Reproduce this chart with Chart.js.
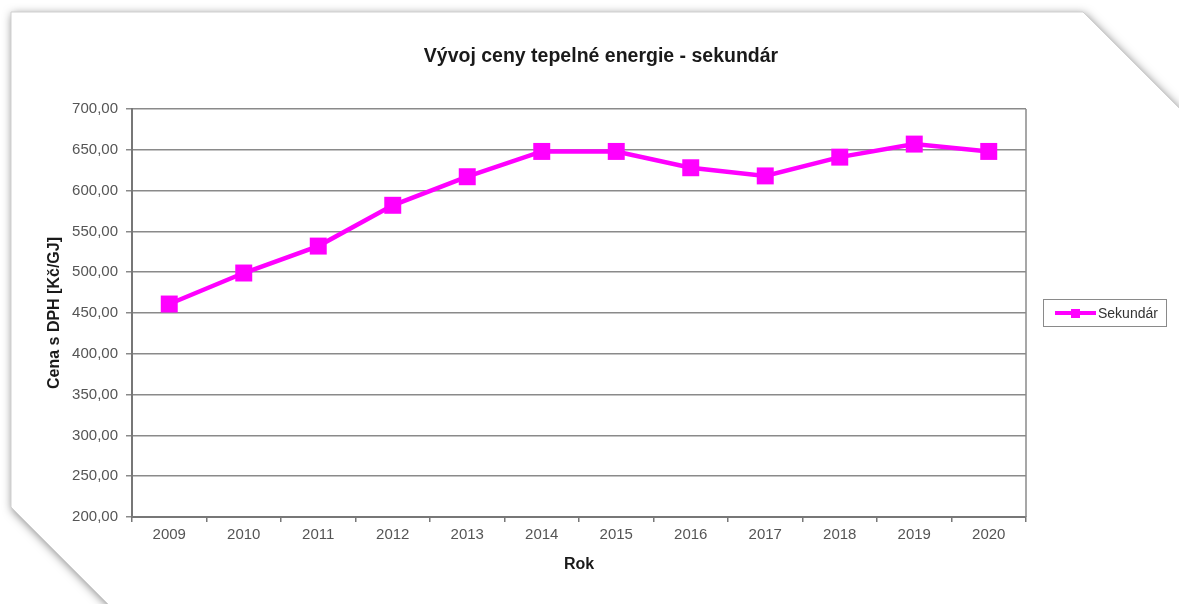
<!DOCTYPE html>
<html>
<head>
<meta charset="utf-8">
<script src="https://cdn.jsdelivr.net/npm/chart.js@4.4.1/dist/chart.umd.min.js"></script>
<style>
  html, body { margin: 0; padding: 0; background: #fff; }
  #wrap { width: 1179px; height: 604px; }
</style>
</head>
<body>
<div id="wrap"><canvas id="chart" width="1179" height="604"></canvas></div>
<script>
const years = ["2009", "2010", "2011", "2012", "2013", "2014", "2015", "2016", "2017", "2018", "2019", "2020"];
const sekundar = [461, 499, 532, 582, 617, 648, 648, 628, 618, 641, 657, 648];
const yMin = 200;
const yMax = 700;
const yStep = 50;
const chartTitle = 'Vývoj ceny tepelné energie - sekundár';

const magenta = '#ff00ff';
const font = '"Liberation Sans", Arial, sans-serif';

// paper sheet with cut corners, title, plot border and legend box
const paperPlugin = {
    id: 'paper',
    beforeDraw(chart) {
        const c = chart.ctx;
        c.save();
        c.fillStyle = '#ffffff';
        c.fillRect(0, 0, chart.width, chart.height);
        c.beginPath();
        c.moveTo(11, 12);
        c.lineTo(1083, 12);
        c.lineTo(1190, 119);
        c.lineTo(1190, 620);
        c.lineTo(124, 620);
        c.lineTo(11, 507);
        c.closePath();
        c.shadowColor = 'rgba(0,0,0,0.5)';
        c.shadowBlur = 10;
        c.shadowOffsetX = 1;
        c.shadowOffsetY = 2;
        c.fillStyle = '#ffffff';
        c.fill();
        c.shadowColor = 'transparent';
        c.strokeStyle = '#d0d0d0';
        c.lineWidth = 1;
        c.stroke();
        c.restore();
    },
    afterDraw(chart) {
        const c = chart.ctx;
        const a = chart.chartArea;
        c.save();
        // title, centred over the sheet rather than the plot
        c.fillStyle = '#1a1a1a';
        c.font = 'bold 19.5px ' + font;
        c.textAlign = 'center';
        c.textBaseline = 'middle';
        c.fillText(chartTitle, 601, 57);

        // right border of the plot area
        c.strokeStyle = '#8a8a8a';
        c.lineWidth = 1.5;
        c.beginPath();
        c.moveTo(a.right, a.top);
        c.lineTo(a.right, a.bottom);
        c.stroke();

        // legend box
        const ds = chart.data.datasets[0];
        const lx = a.right + 17, ly = 299, lw = 123, lh = 27;
        c.strokeStyle = '#8a8a8a';
        c.lineWidth = 1;
        c.strokeRect(lx + 0.5, ly + 0.5, lw, lh);
        const cy = ly + lh / 2 + 0.5;
        c.strokeStyle = ds.borderColor;
        c.lineWidth = 4;
        c.beginPath();
        c.moveTo(lx + 12, cy);
        c.lineTo(lx + 53, cy);
        c.stroke();
        c.fillStyle = ds.borderColor;
        c.fillRect(lx + 28, cy - 4, 9, 9);
        c.fillStyle = '#333';
        c.font = '14px ' + font;
        c.textAlign = 'left';
        c.textBaseline = 'middle';
        c.fillText(ds.label, lx + 55, cy + 1);
        c.restore();
    }
};

new Chart(document.getElementById('chart'), {
    type: 'line',
    data: {
        labels: years,
        datasets: [{
            label: 'Sekundár',
            data: sekundar,
            borderColor: magenta,
            backgroundColor: magenta,
            borderWidth: 4.5,
            pointStyle: 'rect',
            pointRadius: 12,
            pointBorderWidth: 0,
            pointBackgroundColor: magenta,
            tension: 0
        }]
    },
    options: {
        responsive: false,
        animation: false,
        devicePixelRatio: 1,
        layout: { padding: { left: 0, top: 109, right: 153, bottom: 0 } },
        plugins: {
            legend: { display: false },
            tooltip: { enabled: false },
            title: { display: false }
        },
        scales: {
            x: {
                type: 'category',
                offset: true,
                afterFit(scale) { scale.height = 87; },
                grid: {
                    offset: true,
                    drawOnChartArea: false,
                    drawTicks: true,
                    tickLength: 5,
                    color: '#777',
                    lineWidth: 1.5
                },
                border: { color: '#777', width: 2 },
                ticks: {
                    color: '#555',
                    padding: 4,
                    maxRotation: 0,
                    font: { family: font, size: 15 }
                },
                title: {
                    display: true,
                    text: 'Rok',
                    color: '#1a1a1a',
                    font: { family: font, size: 16, weight: 'bold' },
                    padding: { top: 0, bottom: 29.4 }
                }
            },
            y: {
                min: yMin,
                max: yMax,
                afterFit(scale) { scale.width = 132; },
                grid: {
                    color: '#8a8a8a',
                    lineWidth: 1.5,
                    tickLength: 6
                },
                border: { color: '#777', width: 2 },
                ticks: {
                    stepSize: yStep,
                    color: '#555',
                    padding: 8,
                    font: { family: font, size: 15 },
                    callback: v => v.toFixed(2).replace('.', ',')
                },
                title: {
                    display: true,
                    text: 'Cena s DPH [Kč/GJ]',
                    color: '#1a1a1a',
                    font: { family: font, size: 16, weight: 'bold' },
                    padding: { top: 45, bottom: 0 }
                }
            }
        }
    },
    plugins: [paperPlugin]
});
</script>
</body>
</html>
